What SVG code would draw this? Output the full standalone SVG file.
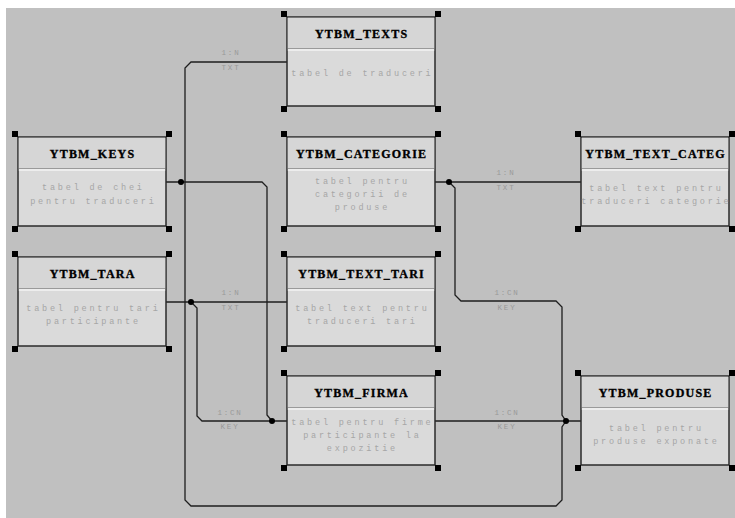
<svg xmlns="http://www.w3.org/2000/svg" width="735" height="518" viewBox="0 0 735 518">
<style>
.bg{fill:#c0c0c0}
.frame{fill:#dadada;stroke:#2a2a2a;stroke-width:1.5}
.hdr{fill:#d6d6d6}
.sep1{stroke:#9a9a9a;stroke-width:1}
.sep2{stroke:#ffffff;stroke-width:1.2}
.h{fill:#000;stroke:none}
.title{font-family:"Liberation Serif","Times New Roman",serif;font-weight:bold;font-size:12px;letter-spacing:1.2px;text-anchor:middle;fill:#000;stroke:#000;stroke-width:0.35}
.desc{font-family:"Liberation Mono",monospace;font-size:8.5px;letter-spacing:2.8px;text-anchor:middle;fill:#a6a6a6}
.lbl{font-family:"Liberation Mono",monospace;font-size:7.5px;letter-spacing:1.8px;text-anchor:middle;fill:#999}
.c{fill:none;stroke:#1e1e1e;stroke-width:1.3}
.dot{fill:#000}
</style>
<defs>
<g id="handles">
<rect class="h" x="-6" y="-6" width="6" height="6"/>
<rect class="h" x="148" y="-6" width="6" height="6"/>
<rect class="h" x="-6" y="89" width="6" height="6"/>
<rect class="h" x="148" y="89" width="6" height="6"/>
</g>
<g id="boxbase">
<rect class="frame" x="0" y="0" width="148" height="89"/>
<rect class="hdr" x="0.75" y="0.75" width="146.5" height="30.5"/>
<line class="sep1" x1="0.75" y1="31.5" x2="147.25" y2="31.5"/>
<line class="sep2" x1="0.75" y1="33" x2="147.25" y2="33"/>
<use href="#handles"/>
</g>
</defs>
<rect x="0" y="0" width="735" height="518" fill="#ffffff"/>
<rect class="bg" x="6" y="8" width="729" height="510"/>

<g id="connectors">
<path class="c" d="M287,62 H191 L185,68 V500 L191,506 H556 L562,500 V427 L566,421"/>
<path class="c" d="M166,182 H262 L267,187 V415 L272,421 H287"/>
<path class="c" d="M166,302 H287"/>
<path class="c" d="M191,302 L197,308 V416 L202,421 H272"/>
<path class="c" d="M435,182 H581"/>
<path class="c" d="M449,182 L455,188 V295 L461,301 H556 L562,307 V415 L566,421 H581"/>
<path class="c" d="M435,421 H566"/>
<circle class="dot" cx="181" cy="182" r="3"/>
<circle class="dot" cx="191" cy="302" r="3"/>
<circle class="dot" cx="272" cy="421" r="3"/>
<circle class="dot" cx="449" cy="182" r="3"/>
<circle class="dot" cx="566" cy="421" r="3"/>
<text class="lbl" x="231" y="55">1:N</text>
<text class="lbl" x="231" y="70">TXT</text>
<text class="lbl" x="231" y="295">1:N</text>
<text class="lbl" x="231" y="310">TXT</text>
<text class="lbl" x="230" y="415">1:CN</text>
<text class="lbl" x="230" y="429">KEY</text>
<text class="lbl" x="506" y="175">1:N</text>
<text class="lbl" x="506" y="190">TXT</text>
<text class="lbl" x="507" y="295">1:CN</text>
<text class="lbl" x="507" y="310">KEY</text>
<text class="lbl" x="507" y="415">1:CN</text>
<text class="lbl" x="507" y="429">KEY</text>
</g>

<g id="YTBM_TEXTS" transform="translate(287,17)">
<use href="#boxbase"/>
<text class="title" x="74.6" y="21">YTBM_TEXTS</text>
<text class="desc" x="75.4" y="59">tabel de traduceri</text>
</g>
<g id="YTBM_KEYS" transform="translate(18,137)">
<use href="#boxbase"/>
<text class="title" x="74.6" y="21">YTBM_KEYS</text>
<text class="desc" x="75.4" y="53">tabel de chei</text>
<text class="desc" x="75.4" y="67">pentru traduceri</text>
</g>
<g id="YTBM_CATEGORIE" transform="translate(287,137)">
<use href="#boxbase"/>
<text class="title" x="74.6" y="21">YTBM_CATEGORIE</text>
<text class="desc" x="75.4" y="47">tabel pentru</text>
<text class="desc" x="75.4" y="60">categorii de</text>
<text class="desc" x="75.4" y="73">produse</text>
</g>
<g id="YTBM_TEXT_CATEG" transform="translate(581,137)">
<use href="#boxbase"/>
<text class="title" x="74.6" y="21">YTBM_TEXT_CATEG</text>
<text class="desc" x="75.4" y="54">tabel text pentru</text>
<text class="desc" x="75.4" y="67">traduceri categorie</text>
</g>
<g id="YTBM_TARA" transform="translate(18,257)">
<use href="#boxbase"/>
<text class="title" x="74.6" y="21">YTBM_TARA</text>
<text class="desc" x="75.4" y="54">tabel pentru tari</text>
<text class="desc" x="75.4" y="67">participante</text>
</g>
<g id="YTBM_TEXT_TARI" transform="translate(287,257)">
<use href="#boxbase"/>
<text class="title" x="74.6" y="21">YTBM_TEXT_TARI</text>
<text class="desc" x="75.4" y="54">tabel text pentru</text>
<text class="desc" x="75.4" y="67">traduceri tari</text>
</g>
<g id="YTBM_FIRMA" transform="translate(287,376)">
<use href="#boxbase"/>
<text class="title" x="74.6" y="21">YTBM_FIRMA</text>
<text class="desc" x="75.4" y="49">tabel pentru firme</text>
<text class="desc" x="75.4" y="62">participante la</text>
<text class="desc" x="75.4" y="75">expozitie</text>
</g>
<g id="YTBM_PRODUSE" transform="translate(581,376)">
<use href="#boxbase"/>
<text class="title" x="74.6" y="21">YTBM_PRODUSE</text>
<text class="desc" x="75.4" y="55">tabel pentru</text>
<text class="desc" x="75.4" y="68">produse exponate</text>
</g>
</svg>
